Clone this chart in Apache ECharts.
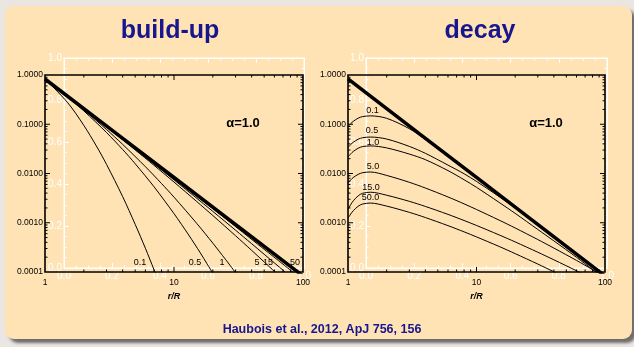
<!DOCTYPE html>
<html>
<head>
<meta charset="utf-8">
<script src="https://cdn.jsdelivr.net/npm/echarts@6/dist/echarts.min.js"></script>
<style>
  html, body { margin: 0; padding: 0; background: #ebe6e1; }
  #chart { width: 634px; height: 347px; }
</style>
</head>
<body>
<div id="chart"></div>
<script>
// ---- density profiles, pairs of [r/R, rho] ----
// build-up phase (labelled by elapsed time)
const buildUp_0_1 = [[1,0.83],[1.5,0.274],[2,0.0947],[2.5,0.0363],[3,0.0153],[4,0.00339],[5,0.00093],[6,0.000304],[7,0.000111],[7.2,0.000092]];
const buildUp_0_5 = [[1,0.83],[1.5,0.358],[2,0.1865],[3,0.0678],[4,0.0307],[5,0.0158],[7,0.00538],[10,0.00153],[13,0.000564],[16,0.000244],[18,0.000148],[20,0.000094]];
const buildUp_1 = [[1,0.83],[1.5,0.363],[2,0.196],[3,0.078],[4,0.039],[6,0.01377],[8,0.00627],[10,0.00331],[15,0.000971],[20,0.000385],[25,0.000182],[30,0.000097]];
const buildUp_5 = [[1,0.83],[2,0.2048],[3,0.0887],[5,0.0302],[7,0.01465],[10,0.0067],[15,0.0027],[20,0.0014],[30,0.000545],[40,0.000275],[50,0.00016],[61,0.000099]];
const buildUp_15 = [[1,0.83],[2,0.206],[3,0.0904],[5,0.0316],[10,0.00743],[20,0.0017],[30,0.000705],[40,0.000375],[50,0.000229],[60,0.000153],[72,0.000102],[73,0.000098]];
const buildUp_50 = [[1,0.83],[3,0.0921],[10,0.00797],[20,0.00193],[30,0.000835],[50,0.000289],[70,0.000144],[84,0.000098]];
const steadyState = [[1,0.83],[10,0.0083],[100,0.000083]];

// dissipation phase
const decay_0_1 = [[1,0.0891],[1.05,0.1028],[1.1,0.1148],[1.2,0.133],[1.3,0.1432],[1.5,0.148],[2,0.132],[3,0.0813],[4,0.049],[6,0.0221],[8,0.0126],[10,0.00813],[20,0.00204],[40,0.000513],[100,0.000081]];
const decay_0_5 = [[1,0.0339],[1.05,0.0388],[1.1,0.0432],[1.2,0.0497],[1.3,0.0533],[1.5,0.055],[2,0.0501],[3,0.0355],[4,0.0257],[6,0.0148],[8,0.00989],[10,0.0069],[15,0.00339],[20,0.002],[30,0.00088],[40,0.000507],[60,0.000225],[100,0.000081]];
const decay_1_0 = [[1,0.0216],[1.05,0.0251],[1.1,0.0281],[1.2,0.0326],[1.3,0.0352],[1.5,0.0363],[2,0.0331],[3,0.0248],[4,0.0191],[6,0.01146],[8,0.00748],[10,0.00524],[15,0.00259],[20,0.00155],[30,0.00073],[40,0.000428],[60,0.000199],[80,0.000112],[100,0.000072]];
const decay_5_0 = [[1,0.00641],[1.05,0.00741],[1.1,0.0083],[1.2,0.00962],[1.3,0.01038],[1.5,0.01072],[2,0.00914],[3,0.00663],[4,0.00507],[6,0.00334],[8,0.00242],[10,0.00186],[15,0.00113],[20,0.000783],[30,0.000456],[40,0.000306],[60,0.000172],[80,0.000112],[90,0.000094]];
const decay_15_0 = [[1,0.001862],[1.05,0.002339],[1.1,0.002792],[1.2,0.00352],[1.3,0.003966],[1.5,0.004169],[2,0.003622],[3,0.002722],[4,0.002143],[6,0.001479],[8,0.001111],[10,0.000881],[15,0.000566],[20,0.000408],[30,0.000252],[40,0.000177],[60,0.000106],[65,0.000095]];
const decay_50_0 = [[1,0.00123],[1.05,0.001506],[1.1,0.001761],[1.2,0.002163],[1.3,0.002404],[1.5,0.002512],[2,0.002178],[3,0.001627],[4,0.001276],[6,0.000874],[8,0.000654],[10,0.000516],[15,0.00033],[20,0.000236],[30,0.000145],[40,0.000101],[42,0.000095]];

// ---- tick positions on the log frames ----
const xMajorTicks = [10];
const xMinorTicks = [2,3,4,5,6,7,8,9,20,30,40,50,60,70,80,90];
const yMajorTicks = [0.001,0.01,0.1];
const yMinorTicks = [0.0002,0.0003,0.0004,0.0005,0.0006,0.0007,0.0008,0.0009,
                     0.002,0.003,0.004,0.005,0.006,0.007,0.008,0.009,
                     0.02,0.03,0.04,0.05,0.06,0.07,0.08,0.09,
                     0.2,0.3,0.4,0.5,0.6,0.7,0.8,0.9];

// ---- text ----
const panelTitles = ['build-up', 'decay'];
const buildUpLabels = ['0.1','0.5','1','5','15','50'];
const decayLabels = ['0.1','0.5','1.0','5.0','15.0','50.0'];
const alphaText = 'α=1.0';
const xName = 'r/R';
const citation = 'Haubois et al., 2012, ApJ 756, 156';

const NAVY = '#17168c';
const FONT = '"Liberation Sans", Arial, Helvetica, sans-serif';

function tickData(xmin, ymin) {
  const d = [];
  xMajorTicks.forEach(v => d.push([v, ymin, 0]));
  xMinorTicks.forEach(v => d.push([v, ymin, 1]));
  yMajorTicks.forEach(v => d.push([xmin, v, 2]));
  yMinorTicks.forEach(v => d.push([xmin, v, 3]));
  return d;
}

// inward ticks on all four sides of a log frame
function renderTick(params, api) {
  const cs = params.coordSys;
  const p = api.coord([api.value(0), api.value(1)]);
  const kind = api.value(2);
  const len = (kind === 0 || kind === 2) ? 5 : 2.5;
  const st = () => ({ stroke: '#000', lineWidth: 1 });
  if (kind < 2) {
    const x = p[0];
    return { type: 'group', children: [
      { type: 'line', shape: { x1: x, y1: cs.y + cs.height, x2: x, y2: cs.y + cs.height - len }, style: st() },
      { type: 'line', shape: { x1: x, y1: cs.y, x2: x, y2: cs.y + len }, style: st() }
    ]};
  }
  const y = p[1];
  return { type: 'group', children: [
    { type: 'line', shape: { x1: cs.x, y1: y, x2: cs.x + len, y2: y }, style: st() },
    { type: 'line', shape: { x1: cs.x + cs.width, y1: y, x2: cs.x + cs.width - len, y2: y }, style: st() }
  ]};
}

function logX(grid) {
  return {
    type: 'log', logBase: 10, gridIndex: grid, min: 1, max: 100, z: 4,
    axisLine: { show: false }, axisTick: { show: false }, splitLine: { show: false },
    axisLabel: { color: '#000', fontSize: 8.5, fontFamily: FONT, margin: 6,
                 showMinLabel: true, showMaxLabel: true,
                 formatter: v => String(Math.round(v)) },
    name: xName, nameLocation: 'middle', nameGap: 17,
    nameTextStyle: { color: '#000', fontSize: 9, fontStyle: 'italic', fontWeight: 'bold', fontFamily: FONT }
  };
}
function logY(grid) {
  return {
    type: 'log', logBase: 10, gridIndex: grid, min: 0.0001, max: 1, z: 4,
    axisLine: { show: false }, axisTick: { show: false }, splitLine: { show: false },
    axisLabel: { color: '#000', fontSize: 8.5, fontFamily: FONT, margin: 2,
                 showMinLabel: true, showMaxLabel: true,
                 formatter: v => Number(v).toFixed(4) }
  };
}
function linAxis(grid, pos, labels, isX) {
  return {
    type: 'value', gridIndex: grid, position: pos, min: 0, max: 1, interval: 0.2, z: 1,
    axisLine: { show: true, onZero: false, lineStyle: { color: '#fff', width: 1 } },
    axisTick: { show: true, inside: true, length: 5, lineStyle: { color: '#fff' } },
    minorTick: { show: true, splitNumber: 4, length: 2.5, lineStyle: { color: '#fff' } },
    splitLine: { show: false },
    axisLabel: { show: labels, color: '#fff', fontSize: 10, fontFamily: FONT,
                 margin: isX ? 3 : 2, showMinLabel: true, showMaxLabel: true,
                 formatter: v => v.toFixed(1) }
  };
}

function curve(data, grid, width) {
  return {
    type: 'line', xAxisIndex: grid, yAxisIndex: grid, data: data,
    showSymbol: false, symbol: 'none', smooth: 0.3, clip: true, z: 5, silent: true,
    lineStyle: { color: '#000', width: width || 1 }
  };
}

function text(str, x, y, size, opts) {
  return Object.assign({
    type: 'text', x: x, y: y, z: 20, silent: true,
    style: Object.assign({ text: str, fill: '#000', font: size + 'px ' + FONT,
                           textAlign: 'center', textVerticalAlign: 'middle' }, opts || {})
  });
}

const chart = echarts.init(document.getElementById('chart'), null, { renderer: 'canvas' });

const buildUpLabelPos = [[140,263],[195,263],[222,263],[257,263],[268,263],[295,263]];
const decayLabelPos = [[372.5,111],[372,130.5],[373,142.5],[373,166.5],[371,187.5],[370.5,198]];

const graphics = [
  { type: 'rect', z: -10, silent: true,
    shape: { x: 5, y: 6, width: 627, height: 333, r: 9 },
    style: { fill: '#ffe3b5', shadowBlur: 3, shadowOffsetX: 4, shadowOffsetY: 4, shadowColor: 'rgba(70,70,70,0.75)' } },
  text(panelTitles[0], 170, 31, 25, { fill: NAVY, font: 'bold 25px ' + FONT }),
  text(panelTitles[1], 480, 31, 25, { fill: NAVY, font: 'bold 25px ' + FONT }),
  text(citation, 322, 330, 12.5, { fill: NAVY, font: 'bold 12.5px ' + FONT }),
  text(alphaText, 243, 123, 13, { font: 'bold 13px ' + FONT }),
  text(alphaText, 546, 123, 13, { font: 'bold 13px ' + FONT })
];
buildUpLabels.forEach((s, i) => graphics.push(text(s, buildUpLabelPos[i][0], buildUpLabelPos[i][1], 9)));
decayLabels.forEach((s, i) => graphics.push(text(s, decayLabelPos[i][0], decayLabelPos[i][1], 9)));

chart.setOption({
  animation: false,
  backgroundColor: 'transparent',
  graphic: { elements: graphics },
  grid: [
    { left: 45, top: 75, width: 258, height: 197, show: true, borderColor: '#000', borderWidth: 1.6, backgroundColor: 'transparent', z: 4 },
    { left: 348, top: 75, width: 257, height: 197, show: true, borderColor: '#000', borderWidth: 1.6, backgroundColor: 'transparent', z: 4 },
    { left: 64, top: 58, width: 240, height: 210, show: true, borderColor: '#fff', borderWidth: 1, backgroundColor: 'transparent', z: 1 },
    { left: 366, top: 58, width: 241, height: 210, show: true, borderColor: '#fff', borderWidth: 1, backgroundColor: 'transparent', z: 1 }
  ],
  xAxis: [
    logX(0), logX(1),
    linAxis(2, 'bottom', true, true), linAxis(2, 'top', false, true),
    linAxis(3, 'bottom', true, true), linAxis(3, 'top', false, true)
  ],
  yAxis: [
    logY(0), logY(1),
    linAxis(2, 'left', true, false), linAxis(2, 'right', false, false),
    linAxis(3, 'left', true, false), linAxis(3, 'right', false, false)
  ],
  series: [
    { type: 'custom', xAxisIndex: 0, yAxisIndex: 0, data: tickData(1, 0.0001), encode: { x: 0, y: 1 },
      renderItem: renderTick, silent: true, z: 6, clip: false },
    { type: 'custom', xAxisIndex: 1, yAxisIndex: 1, data: tickData(1, 0.0001), encode: { x: 0, y: 1 },
      renderItem: renderTick, silent: true, z: 6, clip: false },

    curve(buildUp_0_1, 0), curve(buildUp_0_5, 0), curve(buildUp_1, 0),
    curve(buildUp_5, 0), curve(buildUp_15, 0), curve(buildUp_50, 0),
    curve(steadyState, 0, 3.5),

    curve(decay_0_1, 1), curve(decay_0_5, 1), curve(decay_1_0, 1),
    curve(decay_5_0, 1), curve(decay_15_0, 1), curve(decay_50_0, 1),
    curve(steadyState, 1, 3.5)
  ]
});
</script>
</body>
</html>
